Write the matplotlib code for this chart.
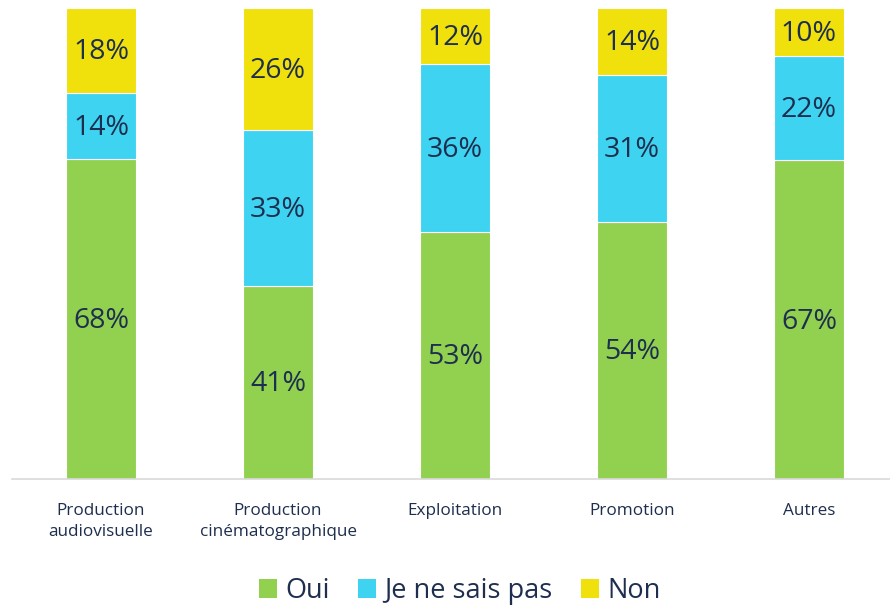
import numpy as np
import matplotlib.pyplot as plt
from matplotlib.patches import Patch

plt.rcParams['font.family'] = ['Open Sans', 'DejaVu Sans']

categories = ['Production\naudiovisuelle', 'Production\ncinématographique',
              'Exploitation', 'Promotion', 'Autres']
oui = np.array([68, 41, 53, 54, 67])
nsp = np.array([14, 33, 36, 31, 22])
non = np.array([18, 26, 12, 14, 10])
series = [('Oui', oui, '#92D050'), ('Je ne sais pas', nsp, '#3DD3F1'), ('Non', non, '#F0E00B')]

txt_color = '#1E2E4E'
total = oui + nsp + non

fig = plt.figure(figsize=(8.9, 6.05), dpi=100, facecolor='w')
ax = fig.add_axes([12 / 890, 1 - 479 / 605, 878 / 890, 471 / 605])

x = np.arange(len(categories))
bottom = np.zeros(len(categories))
for name, vals, col in series:
    h = vals / total
    ax.bar(x, h, 0.395, bottom=bottom, color=col, edgecolor='white', linewidth=0.8, label=name)
    for xi, b, hi, v in zip(x, bottom, h, vals):
        ax.text(xi, b + hi / 2 - 0.004, f'{v}%', ha='center', va='center', fontsize=20.5, color=txt_color)
    bottom += h

ax.set_xlim(-0.503, 4.458)
ax.set_ylim(0, 1)
ax.set_yticks([])
ax.set_xticks(x)
ax.set_xticklabels(categories, fontsize=12.3, color=txt_color, linespacing=1.45)
ax.tick_params(axis='x', length=0, pad=17)
for s in ('top', 'right', 'left'):
    ax.spines[s].set_visible(False)
ax.spines['bottom'].set_color('#D9D9D9')
ax.spines['bottom'].set_linewidth(1.2)

handles = [Patch(facecolor=c, label=n) for n, _, c in series]
leg = fig.legend(handles=handles, loc='center', bbox_to_anchor=(460 / 890, 1 - 591 / 605), ncol=3,
                 frameon=False, fontsize=19.5, handlelength=0.67, handleheight=0.67,
                 handletextpad=0.3, columnspacing=1.05, labelcolor=txt_color)

fig.savefig('out.png', dpi=100, facecolor='w')
